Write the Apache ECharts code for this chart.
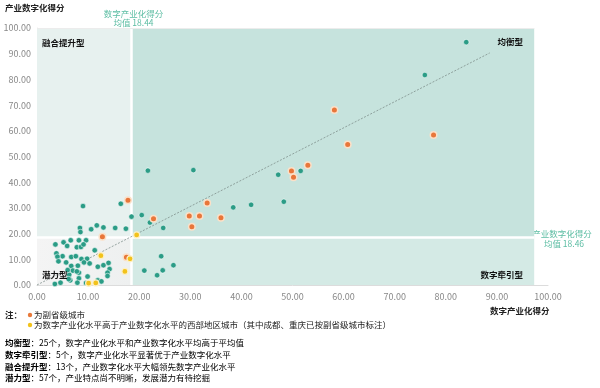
<!DOCTYPE html>
<html><head><meta charset="utf-8">
<script src="https://cdn.jsdelivr.net/npm/echarts@6/dist/echarts.min.js"></script>
<style>html,body{margin:0;padding:0;background:#fff}#c{width:600px;height:388px}</style>
</head><body><div id="c"></div>
<script>
const tealPoints = [
[84.0,94.5],[75.9,81.7],[51.6,44.4],[47.2,42.9],[48.3,32.4],[41.9,31.2],[21.7,44.5],[30.6,44.7],[38.4,30.2],[18.5,26.6],[20.5,27.2],[22.1,24.3],[24.7,22.2],
[21.0,5.6],[23.5,3.8],[24.6,5.7],[26.7,7.7],[24.3,11.2],
[9.0,30.7],[16.4,31.6],[8.4,22.2],[8.5,20.6],[10.6,21.7],[11.7,23.2],[13.0,22.4],[15.3,22.2],[17.4,21.9],
[3.6,15.8],[5.2,16.6],[6.6,17.4],[5.9,15.2],[8.2,17.4],[9.6,17.4],[7.8,14.7],[8.6,14.8],[9.1,15.8],[11.3,13.5],
[3.8,12.3],[5.0,11.2],[4.0,11.0],[5.7,8.8],[4.2,9.2],[6.7,10.9],[7.6,11.2],[8.7,10.1],[9.8,10.2],[9.2,8.8],
[10.3,8.4],[6.7,7.4],[8.0,7.5],[11.9,7.1],[13.0,7.7],[14.0,8.6],[14.2,6.2],[13.8,4.8],[13.8,3.5],[7.0,5.6],
[8.2,4.8],[6.3,4.0],[8.2,2.6],[9.9,3.3],[6.5,1.8],[7.9,0.9],[3.5,0.4],[4.6,0.9],[9.6,0.8],[11.9,1.8],[12.6,1.4],
[6.0,5.8],[7.8,5.3],[6.2,2.3]
];
const orangePoints = [
[77.6,58.4],[58.2,68.1],[60.8,54.7],[53.0,46.6],[49.8,44.4],[50.2,41.9],[33.3,31.9],[22.8,25.8],
[29.8,26.8],[31.8,26.8],[30.3,22.7],[36.0,26.2],[17.8,33.0],[12.8,18.8],[17.5,10.8]
];
const yellowPoints = [[19.5,19.5],[12.5,11.4],[18.2,10.2],[17.2,5.3],[10.1,0.7],[11.5,0.8]];
const meanX = 18.44;
const meanY = 18.46;
const trendStart = [0,0];
const trendEnd = [88.6,90.3];
const areaRight = 97.3;

const FONT = '"Noto Sans CJK SC", "Noto Sans", sans-serif';
const chart = echarts.init(document.getElementById('c'), null, {renderer:'canvas'});

const notes = [
  ['均衡型', '：25个，数字产业化水平和产业数字化水平均高于平均值'],
  ['数字牵引型', '：5个，数字产业化水平显著优于产业数字化水平'],
  ['融合提升型', '：13个，产业数字化水平大幅领先数字产业化水平'],
  ['潜力型', '：57个，产业特点尚不明晰，发展潜力有待挖掘']
];
const noteY = [343, 355, 366.5, 378];
const graphics = [
  {type:'text', x:5, y:8, style:{text:'产业数字化得分', font:'bold 8.5px '+FONT, fill:'#222', verticalAlign:'middle'}},
  {type:'text', x:490, y:311, style:{text:'数字产业化得分', font:'bold 8.5px '+FONT, fill:'#222', verticalAlign:'middle'}},
  {type:'text', x:133.5, y:13.5, style:{text:'数字产业化得分', font:'8.5px '+FONT, fill:'#5cbda3', align:'center', verticalAlign:'middle'}},
  {type:'text', x:133.5, y:23, style:{text:'均值 18.44', font:'8.5px '+FONT, fill:'#5cbda3', align:'center', verticalAlign:'middle'}},
  {type:'text', x:562, y:233.5, style:{text:'产业数字化得分', font:'8.5px '+FONT, fill:'#5cbda3', align:'center', verticalAlign:'middle'}},
  {type:'text', x:564, y:243.5, style:{text:'均值 18.46', font:'8.5px '+FONT, fill:'#5cbda3', align:'center', verticalAlign:'middle'}},
  {type:'text', x:42, y:42.5, style:{text:'融合提升型', font:'bold 8.5px '+FONT, fill:'#111', verticalAlign:'middle'}, z:10},
  {type:'text', x:523, y:42, style:{text:'均衡型', font:'bold 8.5px '+FONT, fill:'#111', align:'right', verticalAlign:'middle'}, z:10},
  {type:'text', x:42, y:275, style:{text:'潜力型', font:'bold 8.5px '+FONT, fill:'#111', verticalAlign:'middle'}, z:10},
  {type:'text', x:523, y:275, style:{text:'数字牵引型', font:'bold 8.5px '+FONT, fill:'#111', align:'right', verticalAlign:'middle'}, z:10},
  {type:'text', x:270, y:150, style:{text:'CCID赛迪', font:'52px '+FONT, fill:'rgba(160,160,160,0.10)', align:'center', verticalAlign:'middle'}, z:1},
  {type:'text', x:290, y:232, style:{text:'ID-ccid-2014', font:'56px '+FONT, fill:'rgba(160,160,160,0.10)', align:'center', verticalAlign:'middle'}, z:1},
  {type:'text', x:5, y:315, style:{text:'注：', font:'bold 8.5px '+FONT, fill:'#222', verticalAlign:'middle'}},
  {type:'circle', shape:{cx:30, cy:315, r:2.2}, style:{fill:'#e8793a'}},
  {type:'text', x:34, y:315, style:{text:'为副省级城市', font:'8.5px '+FONT, fill:'#222', verticalAlign:'middle'}},
  {type:'circle', shape:{cx:30, cy:325, r:2.2}, style:{fill:'#f2c21b'}},
  {type:'text', x:34, y:325, style:{text:'为数字产业化水平高于产业数字化水平的西部地区城市（其中成都、重庆已按副省级城市标注）', font:'8.5px '+FONT, fill:'#222', verticalAlign:'middle'}}
];
notes.forEach((n,i)=>{
  graphics.push({type:'text', x:5, y:noteY[i], style:{
    text:'{b|'+n[0]+'}{n|'+n[1]+'}', verticalAlign:'middle',
    rich:{b:{font:'bold 8.5px '+FONT, color:'#111'}, n:{font:'8.5px '+FONT, color:'#222'}}
  }});
});

chart.setOption({
  animation:false,
  textStyle:{fontFamily:FONT},
  grid:{left:37, right:52, top:28, bottom:103},
  xAxis:{type:'value', min:0, max:100, interval:10,
    axisLine:{show:true, lineStyle:{color:'#dcdcdc'}}, axisTick:{show:false}, splitLine:{show:false},
    axisLabel:{color:'#888', fontSize:9, margin:7, formatter:v=>v.toFixed(2)}},
  yAxis:{type:'value', min:0, max:100, interval:10,
    axisLine:{show:true, lineStyle:{color:'#ececec'}}, axisTick:{show:false}, splitLine:{show:false},
    axisLabel:{color:'#888', fontSize:9, margin:6, formatter:v=>v.toFixed(2)}},
  graphic:graphics,
  series:[
    {type:'scatter', data:[], z:1, silent:true,
      markArea:{silent:true, z:1, data:[
        [{coord:[0,meanY], itemStyle:{color:'#e7f1ef'}},{coord:[meanX,100]}],
        [{coord:[meanX,meanY], itemStyle:{color:'#c6e3dd'}},{coord:[areaRight,100]}],
        [{coord:[meanX,0], itemStyle:{color:'#d4eae5'}},{coord:[areaRight,meanY]}],
        [{coord:[0,0], itemStyle:{color:{type:'linear',x:0,y:0,x2:1,y2:0,colorStops:[{offset:0,color:'#f4f4f4'},{offset:1,color:'#eef0f0'}]}}},{coord:[meanX,meanY]}]
      ]},
      markLine:{silent:true, z:1, symbol:'none', label:{show:false}, data:[
        [{coord:[meanX,0], lineStyle:{color:'#fff', width:2.5, type:'solid'}},{coord:[meanX,100]}],
        [{coord:[0,meanY], lineStyle:{color:'#fff', width:2.5, type:'solid'}},{coord:[areaRight,meanY]}],
        [{coord:[0,100], lineStyle:{color:'#ececec', width:1, type:'solid'}},{coord:[areaRight,100]}]
      ]}
    },
    {type:'scatter', data:[], z:2, silent:true,
      markLine:{silent:true, z:2, symbol:'none', label:{show:false}, data:[
        [{coord:trendStart, lineStyle:{color:'#7f8f8c', width:0.8, type:[2,1.5]}},{coord:trendEnd}]
      ]}
    },
    {type:'scatter', data:tealPoints, z:3, symbolSize:5.5,
      itemStyle:{color:'#2b9c86', borderColor:'rgba(255,255,255,0.55)', borderWidth:1, opacity:1}},
    {type:'scatter', data:orangePoints, z:4, symbolSize:6.5,
      itemStyle:{color:'#e8763a', borderColor:'#fbe0c8', borderWidth:1.5, opacity:1}},
    {type:'scatter', data:yellowPoints, z:4, symbolSize:6,
      itemStyle:{color:'#f2c21b', borderColor:'#fdf0c6', borderWidth:1.2, opacity:1}}
  ]
});
</script></body></html>
